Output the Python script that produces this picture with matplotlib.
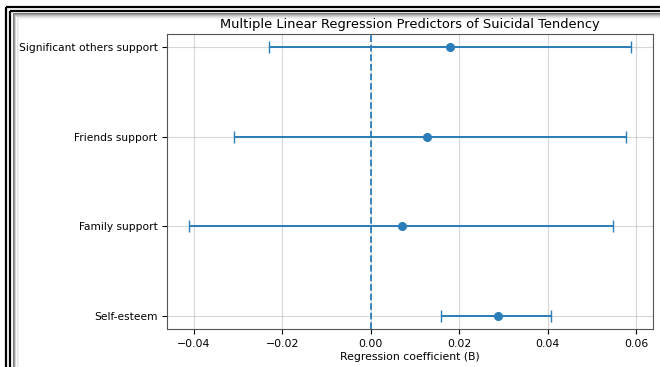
import matplotlib
matplotlib.use("Agg")
import matplotlib.pyplot as plt
from matplotlib.lines import Line2D

# predictors (bottom to top) and estimates
predictors = ["Self-esteem", "Family support", "Friends support", "Significant others support"]
coef = [0.0288, 0.0070, 0.0128, 0.0180]
ci_low = [0.0158, -0.0410, -0.0309, -0.0230]
ci_high = [0.0408, 0.0548, 0.0577, 0.0588]

W, H = 660, 367
fig = plt.figure(figsize=(W / 100, H / 100), dpi=100)
ax = fig.add_axes([167.3 / W, 1 - 329 / H, (653 - 167.3) / W, (329 - 34) / H])

ypos = list(range(len(predictors)))
err = [[c - lo for c, lo in zip(coef, ci_low)], [hi - c for c, hi in zip(coef, ci_high)]]
ax.errorbar(coef, ypos, xerr=err, fmt="o", color="#2a7db8", capsize=4, markersize=5.5, lw=1.4)
ax.axvline(0, color="#2a7db8", linestyle="--", lw=1.3)

ax.set_yticks(ypos)
ax.set_yticklabels(predictors, fontsize=7.7)
ax.tick_params(axis="x", labelsize=7.8)
ax.set_xlabel("Regression coefficient (B)", fontsize=7.8, labelpad=2)
ax.set_title("Multiple Linear Regression Predictors of Suicidal Tendency", fontsize=9.4, pad=4)
ax.grid(True, alpha=0.5)
ax.set_axisbelow(True)
for s in ax.spines.values():
    s.set_color("#555555")

# screenshot frame: double black line on left/top with soft shadow (drawn under the axes)
def px(x0, y0, x1, y1, **kw):
    fig.add_artist(Line2D([x0 / W, x1 / W], [1 - y0 / H, 1 - y1 / H],
                          transform=fig.transFigure, zorder=-1, **kw))

for off, g in zip(range(6), ["#7a7a7a", "#9e9e9e", "#bdbdbd", "#d4d4d4", "#e6e6e6", "#f3f3f3"]):
    px(12.5 + off, 12.5 + off, 12.5 + off, H, color=g, lw=0.75)
    px(12.5 + off, 12.5 + off, W, 12.5 + off, color=g, lw=0.75)
for d in (6.5, 10.5):
    px(d, d, d, H, color="black", lw=1.6, solid_capstyle="butt")
    px(d, d, W, d, color="black", lw=1.6, solid_capstyle="butt")

fig.savefig("out.png", dpi=100)
